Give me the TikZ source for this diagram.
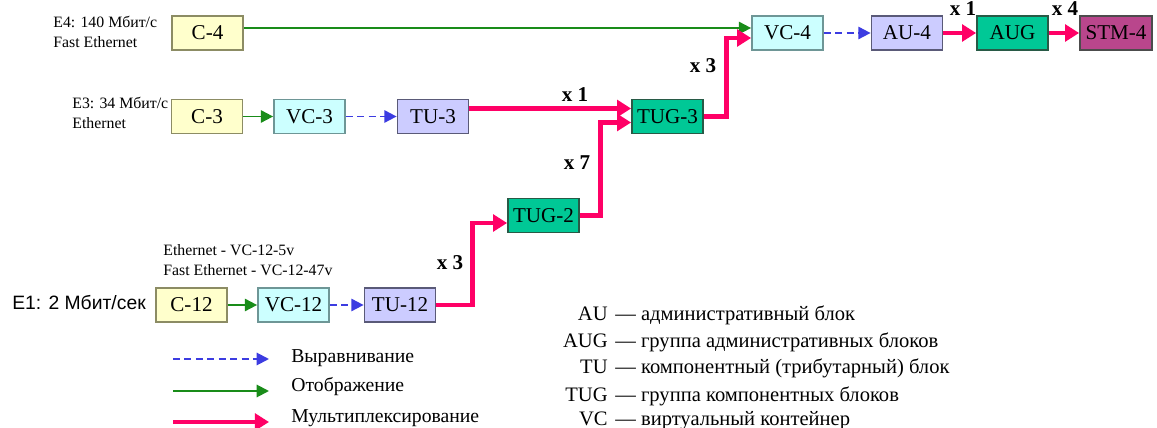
\documentclass[tikz,border=0pt]{standalone}
\usepackage{fontspec}
\setmainfont{Liberation Serif}
\newfontfamily\arialfont{Liberation Sans}
\usetikzlibrary{arrows.meta}

\definecolor{cfill}{RGB}{255,255,204}
\definecolor{cline}{RGB}{140,140,100}
\definecolor{vcfill}{RGB}{204,255,255}
\definecolor{vcline}{RGB}{110,150,150}
\definecolor{tufill}{RGB}{204,204,255}
\definecolor{tuline}{RGB}{90,90,120}
\definecolor{tugfill}{RGB}{0,200,150}
\definecolor{tugline}{RGB}{40,90,70}
\definecolor{stmfill}{RGB}{185,70,140}
\definecolor{mapgreen}{RGB}{25,140,25}
\definecolor{alignblue}{RGB}{60,60,225}
\definecolor{muxpink}{RGB}{255,0,102}

\tikzset{
  block/.style={line width=1pt, minimum width=1.42cm, minimum height=0.68cm,
    inner sep=0pt, font=\fontsize{12}{14}\selectfont},
  cbox/.style={block, draw=cline, fill=cfill},
  vcbox/.style={block, draw=vcline, fill=vcfill},
  tubox/.style={block, draw=tuline, fill=tufill},
  tugbox/.style={block, draw=tugline, fill=tugfill},
  stmbox/.style={block, draw=black!70, fill=stmfill, minimum width=1.44cm},
  maparrow/.style={mapgreen, line width=1.1pt, -{Triangle[length=7pt,width=7pt]}},
  alignarrow/.style={alignblue, line width=1.1pt, dash pattern=on 4pt off 2.5pt,
    -{Triangle[length=7pt,width=7pt]}},
  muxarrow/.style={muxpink, line width=2.8pt, -{Triangle[length=8pt,width=9.5pt]}},
  count/.style={font=\bfseries\fontsize{12}{14}\selectfont, inner sep=0pt},
  srclabel/.style={anchor=west, align=left, inner sep=0pt, font=\fontsize{9}{11.4}\selectfont},
  legtext/.style={anchor=west, inner sep=0pt, font=\fontsize{11.2}{13}\selectfont},
  abbr/.style={inner sep=0pt, font=\fontsize{11.7}{14}\selectfont},
}

\begin{document}
\begin{tikzpicture}
\useasboundingbox (0,0) rectangle (23.14,8.54);

% E4 row
\node[cbox] (c4) at (4.15,7.88) {C-4};
\node[vcbox] (vc4) at (15.75,7.88) {VC-4};
\node[tubox] (au4) at (18.14,7.88) {AU-4};
\node[tugbox] (aug) at (20.25,7.88) {AUG};
\node[stmbox] (stm4) at (22.32,7.88) {STM-4};

% E3 row
\node[cbox] (c3) at (4.14,6.21) {C-3};
\node[vcbox] (vc3) at (6.19,6.21) {VC-3};
\node[tubox] (tu3) at (8.66,6.21) {TU-3};
\node[tugbox] (tug3) at (13.35,6.21) {TUG-3};

% E1 row
\node[tugbox] (tug2) at (10.87,4.23) {TUG-2};
\node[cbox] (c12) at (3.83,2.44) {C-12};
\node[vcbox] (vc12) at (5.87,2.44) {VC-12};
\node[tubox] (tu12) at (8.00,2.44) {TU-12};

% input signals
\node[srclabel] (e4) at (1.06,7.90) {E4: 140 Мбит/с\\Fast Ethernet};
\node[srclabel] (e3) at (1.44,6.28) {E3: 34 Мбит/с\\Ethernet};
\node[srclabel] (vcat) at (3.26,3.34) {Ethernet - VC-12-5v\\Fast Ethernet - VC-12-47v};
\node[anchor=west, inner sep=0pt, font=\arialfont\fontsize{11}{13}\selectfont] (e1) at (0.24,2.48) {E1: 2 Мбит/сек};

% connections
\draw[maparrow] ([yshift=1mm]c4.east) -- ([yshift=1mm]vc4.west);
\draw[alignarrow] (vc4) -- (au4);
\draw[muxarrow] (au4) -- (aug);
\draw[muxarrow] (aug) -- (stm4);
\draw[maparrow] (c3) -- (vc3);
\draw[alignarrow] (vc3) -- (tu3);
\draw[muxarrow] ([yshift=1.6mm]tu3.east) -- ([yshift=1.6mm]tug3.west);
\draw[muxarrow] (tug3.east) -- ++(0.45,0) |- ([yshift=-1mm]vc4.west);
\draw[muxarrow] (tug2.east) -- ++(0.42,0) |- ([yshift=-1.2mm]tug3.west);
\draw[muxarrow] (tu12.east) -- ++(0.73,0) |- ([yshift=-1.5mm]tug2.west);
\draw[maparrow] (c12) -- (vc12);
\draw[alignarrow] (vc12) -- (tu12);

% multiplexing factors
\node[count] (n3a) at (9.00,3.28) {x 3};
\node[count] (n7) at (11.54,5.28) {x 7};
\node[count] (n1a) at (11.50,6.64) {x 1};
\node[count] (n3b) at (14.06,7.22) {x 3};
\node[count] (n1b) at (19.26,8.36) {x 1};
\node[count] (n4) at (21.30,8.36) {x 4};

% legend
\coordinate (la) at (3.46,1.36);
\coordinate (lb) at (3.46,0.72);
\coordinate (lc) at (3.46,0.10);
\draw[alignarrow] (la) -- ++(1.92,0);
\draw[maparrow] (lb) -- ++(1.92,0);
\draw[muxarrow] (lc) -- ++(1.92,0);
\node[legtext] (ta) at (5.82,1.38) {Выравнивание};
\node[legtext] (tb) at (5.82,0.80) {Отображение};
\node[legtext] (tc) at (5.82,0.18) {Мультиплексирование};

% abbreviations
\node[abbr, anchor=base east] (ab1) at (12.16,2.12) {AU};
\node[abbr, anchor=base east] (ab2) at (12.16,1.58) {AUG};
\node[abbr, anchor=base east] (ab3) at (12.16,1.06) {TU};
\node[abbr, anchor=base east] (ab4) at (12.16,0.52) {TUG};
\node[abbr, anchor=base east] (ab5) at (12.16,0.04) {VC};
\node[abbr, anchor=base west] (tx1) at (12.30,2.12) {— административный блок};
\node[abbr, anchor=base west] (tx2) at (12.30,1.58) {— группа административных блоков};
\node[abbr, anchor=base west] (tx3) at (12.30,1.06) {— компонентный (трибутарный) блок};
\node[abbr, anchor=base west] (tx4) at (12.30,0.52) {— группа компонентных блоков};
\node[abbr, anchor=base west] (tx5) at (12.30,0.04) {— виртуальный контейнер};

\end{tikzpicture}
\end{document}
